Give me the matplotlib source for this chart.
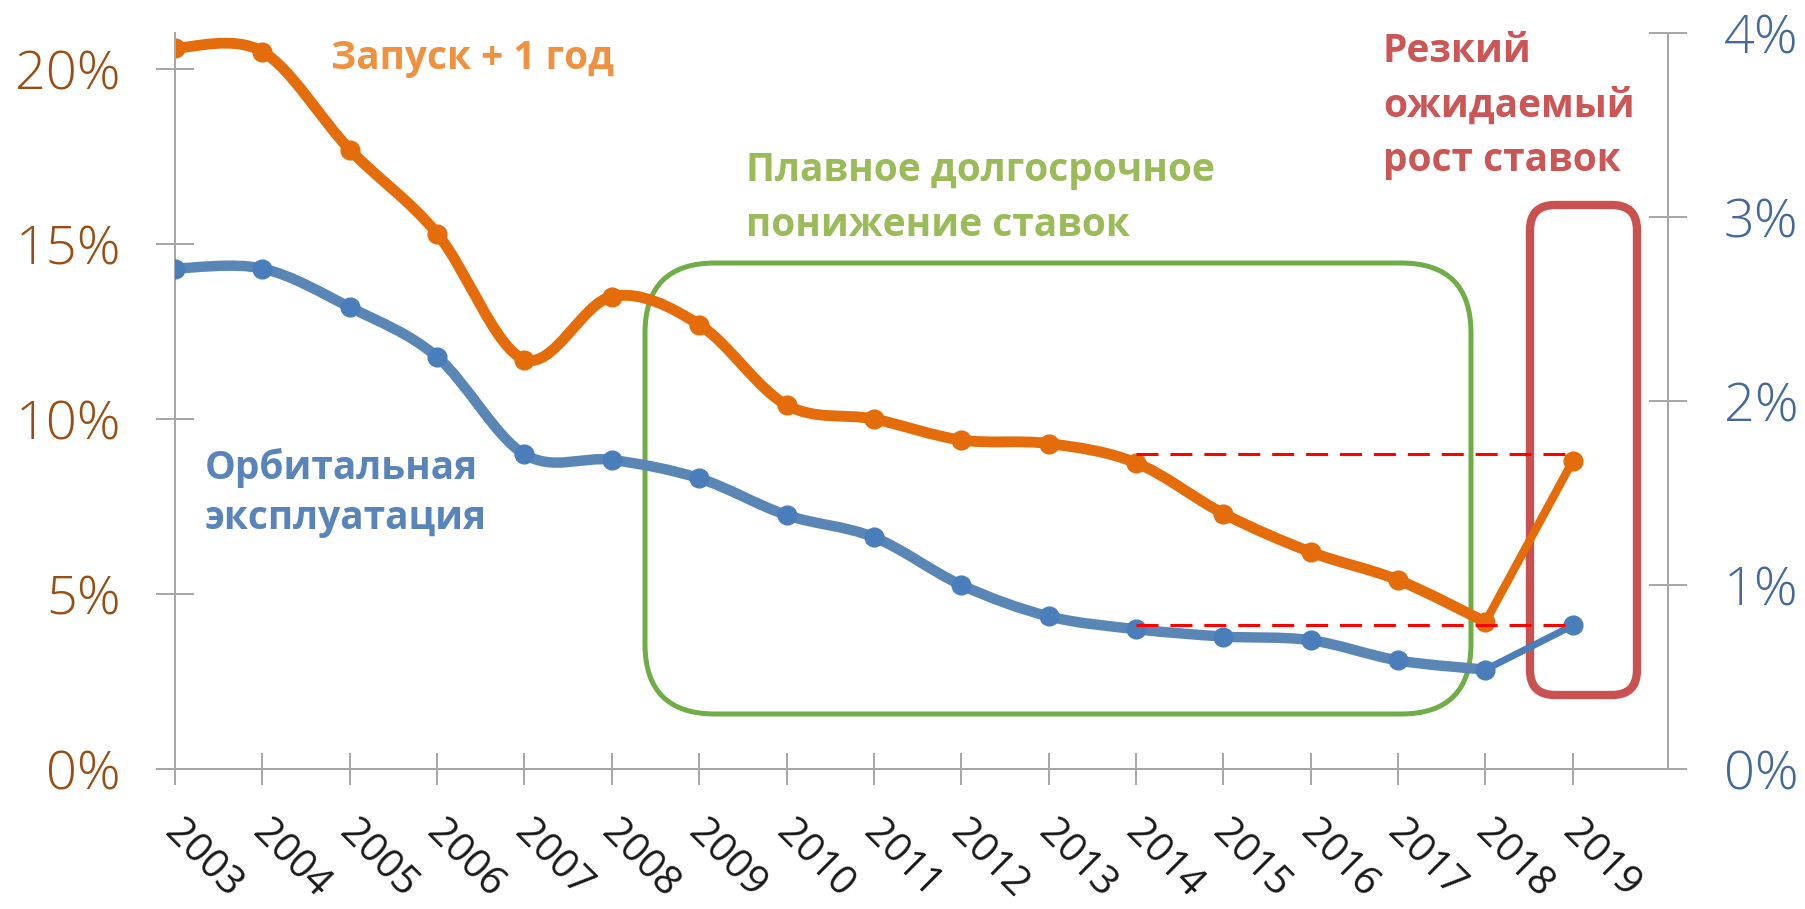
import matplotlib.pyplot as plt
import numpy as np
from matplotlib.path import Path
from matplotlib.patches import PathPatch, FancyBboxPatch
from matplotlib.transforms import IdentityTransform, ScaledTranslation
from matplotlib.ticker import FuncFormatter

W, H = 1806, 909

years = ['2003', '2004', '2005', '2006', '2007', '2008', '2009', '2010', '2011',
         '2012', '2013', '2014', '2015', '2016', '2017', '2018', '2019']
# launch + 1 year (left axis, %)
launch = [20.6, 20.5, 17.7, 15.3, 11.7, 13.5, 12.7, 10.4, 10.0,
          9.4, 9.3, 8.75, 7.3, 6.2, 5.4, 4.2, 8.8]
# orbital operation (right axis, %)
orbital = [2.72, 2.72, 2.51, 2.24, 1.71, 1.68, 1.58, 1.38, 1.26,
           1.00, 0.83, 0.76, 0.72, 0.70, 0.59, 0.54, 0.78]
left_ticks = [0, 5, 10, 15, 20]
right_ticks = [0, 1, 2, 3, 4]
dash_start = '2014'
launch_ref_level = 9.0
orbital_ref_level = 0.78

ORANGE = '#E46C0A'
BLUE_LINE = '#5A86B6'
BLUE_DOT = '#4A7EBB'
GRAY = '#A6A6A6'


def smooth_path(x, y):
    pts = np.column_stack([x, y]).astype(float)
    n = len(pts)
    verts = [pts[0]]
    codes = [Path.MOVETO]
    for i in range(n - 1):
        p0 = pts[max(i - 1, 0)]
        p1 = pts[i]
        p2 = pts[i + 1]
        p3 = pts[min(i + 2, n - 1)]
        verts += [p1 + (p2 - p0) / 6, p2 - (p3 - p1) / 6, p2]
        codes += [Path.CURVE4] * 3
    return Path(verts, codes)


def fpos(x, y_top):
    return x / W, 1 - y_top / H


fig = plt.figure(figsize=(W / 100, H / 100), dpi=100)
ax = fig.add_axes([175 / W, 1 - 769 / H, (1668 - 175) / W, (769 - 33) / H])
ax2 = ax.twinx()

x = np.arange(len(years))

# orange series: smooth up to 2018, straight jump to 2019
ax.add_patch(PathPatch(smooth_path(x[:-1], launch[:-1]), fill=False,
                       edgecolor=ORANGE, lw=7.8, capstyle='round', zorder=3))
ax.plot(x[-2:], launch[-2:], color=ORANGE, lw=6, solid_capstyle='round', zorder=3)
ax.plot(x, launch, 'o', color=ORANGE, ms=13.5, zorder=4)

# blue series
ax2.add_patch(PathPatch(smooth_path(x[:-1], orbital[:-1]), fill=False,
                        edgecolor=BLUE_LINE, lw=7.5, capstyle='round', zorder=3))
ax2.plot(x[-2:], orbital[-2:], color=BLUE_DOT, lw=5, solid_capstyle='round', zorder=3)
ax2.plot(x, orbital, 'o', color=BLUE_DOT, ms=13.5, zorder=4)

# dashed reference lines
i0 = years.index(dash_start)
ax.plot([x[i0], x[-1]], [launch_ref_level] * 2, color='#FF0000', lw=2.2,
        ls=(0, (7.2, 3.9)), zorder=6)
ax2.plot([x[i0], x[-1]], [orbital_ref_level] * 2, color='#FF0000', lw=2.2,
         ls=(0, (7.2, 3.9)), zorder=6)

ax.set_xlim(0, 17.09)
ax.set_ylim(0, 21.03)
ax2.set_ylim(0, 4)

for a in (ax, ax2):
    a.spines['top'].set_visible(False)
    for s in ('left', 'right', 'bottom'):
        a.spines[s].set_color(GRAY)
        a.spines[s].set_linewidth(1.4)
    a.patch.set_visible(False)

ax.set_xticks(x)
ax.set_xticklabels(years, rotation=-45, ha='left', va='top', rotation_mode='anchor',
                   fontsize=29, color='#1A1A1A', family='Open Sans')
ax.tick_params(axis='x', direction='inout', length=23, width=1.4, color=GRAY, pad=20)
shift = ScaledTranslation(7 / 72, 0, fig.dpi_scale_trans)
for lab in ax.get_xticklabels():
    lab.set_transform(lab.get_transform() + shift)

ax.set_yticks(left_ticks)
ax.yaxis.set_major_formatter(FuncFormatter(lambda v, p: f'{v:.0f}%'))
ax.tick_params(axis='y', direction='inout', length=28, width=1.4, color=GRAY, pad=25,
               labelsize=39, labelcolor='#9A4D12')
ax2.set_yticks(right_ticks)
ax2.yaxis.set_major_formatter(FuncFormatter(lambda v, p: f'{v:.0f}%'))
ax2.tick_params(axis='y', direction='inout', length=28, width=1.4, color=GRAY, pad=26,
                labelsize=39, labelcolor='#44689C')
for lab in ax.get_yticklabels() + ax2.get_yticklabels():
    lab.set_family('Open Sans')
    lab.set_fontweight('light')

# highlight boxes (pixel coordinates)
green = FancyBboxPatch((645 + 70, H - 714 + 70), 1471 - 645 - 140, 714 - 263 - 140,
                       boxstyle='round,pad=70', transform=IdentityTransform(),
                       fill=False, edgecolor='#70AD47', lw=3.6, zorder=1)
red = FancyBboxPatch((1530 + 25, H - 695 + 25), 1637 - 1530 - 50, 695 - 205 - 50,
                     boxstyle='round,pad=25', transform=IdentityTransform(),
                     fill=False, edgecolor='#C9514F', lw=6, zorder=1)
ax.add_patch(green)
ax.add_patch(red)

tk = dict(family='Open Sans', fontweight='bold', fontsize=28, ha='left', va='center')
fig.text(*fpos(331, 58), 'Запуск + 1 год', color='#F0913F', **tk)
fig.text(*fpos(746, 198), 'Плавное долгосрочное\nпонижение ставок', color='#9BBB59',
         linespacing=1.52, **tk)
fig.text(*fpos(1383, 106), 'Резкий\nожидаемый\nрост ставок', color='#CC5555',
         linespacing=1.5, **tk)
fig.text(*fpos(205, 493), 'Орбитальная\nэксплуатация', color='#5884B9',
         linespacing=1.38, **tk)

fig.savefig('out.png', dpi=100)
